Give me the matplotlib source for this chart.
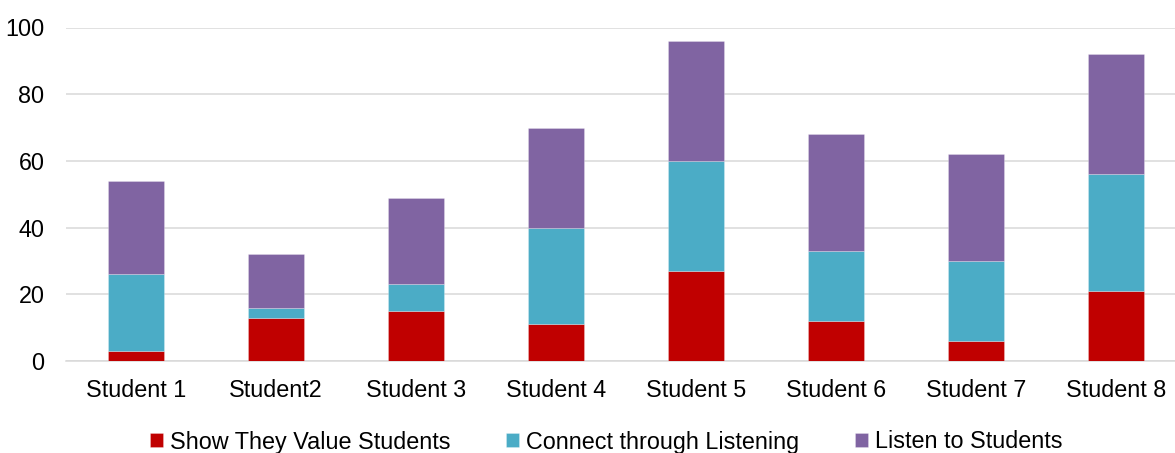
import matplotlib
matplotlib.use("Agg")
import matplotlib.pyplot as plt
import numpy as np

categories = ["Student 1", "Student2", "Student 3", "Student 4",
              "Student 5", "Student 6", "Student 7", "Student 8"]
show_value = [3, 13, 15, 11, 27, 12, 6, 21]
connect_listening = [23, 3, 8, 29, 33, 21, 24, 35]
listen_students = [28, 16, 26, 30, 36, 35, 32, 36]
series_names = ["Show They Value Students", "Connect through Listening", "Listen to Students"]
colors = ["#C00000", "#4BACC6", "#8064A2"]
yticks = [0, 20, 40, 60, 80, 100]

plt.rcParams['font.family'] = ['Liberation Sans', 'DejaVu Sans']

fig = plt.figure(figsize=(11.75, 4.53), dpi=100)
ax = fig.add_axes([66/1175, 1-361/453, 1120/1175, (361-27.5)/453])

x = np.arange(len(categories))
bottom = np.zeros(len(categories))
for vals, name, c in zip([show_value, connect_listening, listen_students], series_names, colors):
    ax.bar(x, vals, width=0.4, bottom=bottom, color=c, label=name,
           edgecolor=(1, 1, 1, 0.35), linewidth=0.5, zorder=3)
    bottom += np.array(vals)

ax.set_xlim(-0.5, len(categories) - 0.5)
ax.set_ylim(0, 100)
ax.set_yticks(yticks)
ax.set_xticks(x)
ax.set_xticklabels(categories)
ax.tick_params(axis='both', length=0, labelsize=16.8, colors='black')
ax.tick_params(axis='y', pad=15.5)
ax.tick_params(axis='x', pad=13)
ax.grid(axis='y', color='#D9D9D9', linewidth=1.1, zorder=0)
for s in ['top', 'right', 'left']:
    ax.spines[s].set_visible(False)
ax.spines['bottom'].set_color('#D9D9D9')
ax.spines['bottom'].set_linewidth(1.1)

fig.legend(loc='center', bbox_to_anchor=(606/1175, 1-442/453), ncol=3, frameon=False,
           fontsize=16.8, handlelength=0.55, handleheight=0.55, handletextpad=0.3,
           columnspacing=2.4, borderaxespad=0, borderpad=0)

fig.savefig("out.png", dpi=100)
